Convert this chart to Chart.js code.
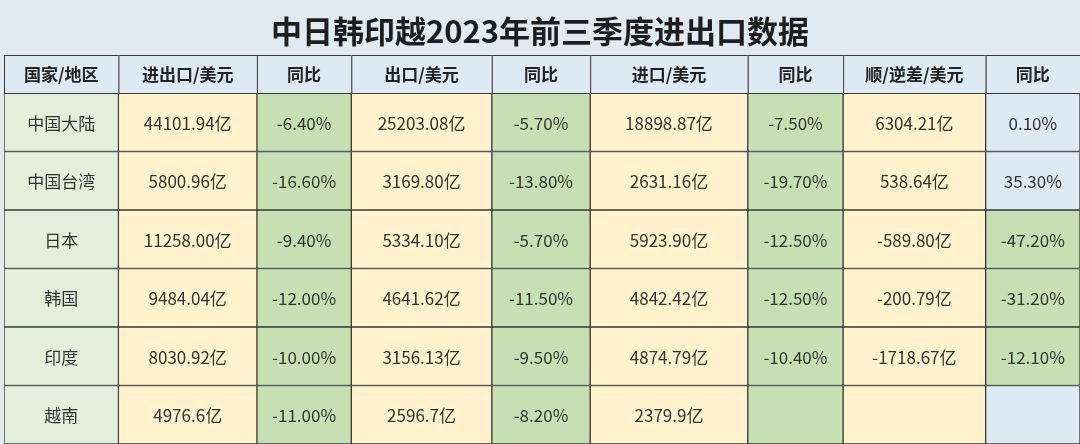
<!DOCTYPE html>
<html><head><meta charset="utf-8">
<script src="https://cdn.jsdelivr.net/npm/chart.js@4/dist/chart.umd.min.js"></script>
<style>html,body{margin:0;padding:0;background:#dfeaf2;}#wrap{width:1080px;height:444px;}</style>
</head><body><div id="wrap"><canvas id="chart"></canvas></div>
<script>
// 表格数据
const title = '中日韩印越2023年前三季度进出口数据';
const headers = ['国家/地区', '进出口/美元', '同比', '出口/美元', '同比', '进口/美元', '同比', '顺/逆差/美元', '同比'];
const regions = ['中国大陆', '中国台湾', '日本', '韩国', '印度', '越南'];
const totalTrade = ['44101.94亿', '5800.96亿', '11258.00亿', '9484.04亿', '8030.92亿', '4976.6亿'];
const totalYoY = ['-6.40%', '-16.60%', '-9.40%', '-12.00%', '-10.00%', '-11.00%'];
const exportsVal = ['25203.08亿', '3169.80亿', '5334.10亿', '4641.62亿', '3156.13亿', '2596.7亿'];
const exportsYoY = ['-5.70%', '-13.80%', '-5.70%', '-11.50%', '-9.50%', '-8.20%'];
const importsVal = ['18898.87亿', '2631.16亿', '5923.90亿', '4842.42亿', '4874.79亿', '2379.9亿'];
const importsYoY = ['-7.50%', '-19.70%', '-12.50%', '-12.50%', '-10.40%', ''];
const balance = ['6304.21亿', '538.64亿', '-589.80亿', '-200.79亿', '-1718.67亿', ''];
const balanceYoY = ['0.10%', '35.30%', '-47.20%', '-31.20%', '-12.10%', ''];

const columns = [regions, totalTrade, totalYoY, exportsVal, exportsYoY, importsVal, importsYoY, balance, balanceYoY];
const colWidths = [114, 138, 94, 140, 98, 157, 95, 142, 94];

const GREEN = '#c6e0b4', CREAM = '#fff2cc', LGREEN = '#e2efda', BLUE = '#dde9f3';
function cellColor(c, r) {
  if (c === 0) return LGREEN;
  if (c === 8) return (r < 2 || r === 5) ? BLUE : GREEN;
  return c % 2 === 0 ? GREEN : CREAM;
}

const edges = [0];
colWidths.forEach(w => edges.push(edges[edges.length - 1] + w));

const datasets = columns.map((col, c) => ({
  label: headers[c],
  data: col.map(() => [edges[c], edges[c + 1]]),
  texts: col,
  backgroundColor: col.map((_, r) => cellColor(c, r)),
  borderColor: '#3a3a3a',
  borderWidth: 1,
  borderSkipped: false,
  barPercentage: 1,
  categoryPercentage: 1
}));

const FONT = '"Noto Sans CJK SC", "Noto Sans", sans-serif';

const tablePlugin = {
  id: 'tableText',
  afterDatasetsDraw(chart) {
    const ctx = chart.ctx;
    const xs = chart.scales.x;
    const top = chart.chartArea.top;
    ctx.save();
    // 标题
    ctx.fillStyle = '#1e1e1e';
    ctx.font = 'bold 31px ' + FONT;
    ctx.textAlign = 'center';
    ctx.textBaseline = 'middle';
    ctx.fillText(title, 540, 31);
    // 表头
    const hTop = 55;
    headers.forEach((h, c) => {
      const x0 = xs.getPixelForValue(edges[c]);
      const x1 = xs.getPixelForValue(edges[c + 1]);
      ctx.fillStyle = BLUE;
      ctx.fillRect(x0, hTop, x1 - x0, top - hTop);
      ctx.strokeStyle = '#3a3a3a';
      ctx.lineWidth = 1;
      ctx.strokeRect(x0 + 0.5, hTop + 0.5, x1 - x0, top - hTop);
      ctx.fillStyle = '#222';
      ctx.font = 'bold 17px ' + FONT;
      ctx.fillText(h, (x0 + x1) / 2, (hTop + top) / 2 + 1);
    });
    // 单元格文字
    ctx.font = '17px ' + FONT;
    ctx.fillStyle = '#333';
    chart.data.datasets.forEach((ds, i) => {
      chart.getDatasetMeta(i).data.forEach((el, r) => {
        const t = ds.texts[r];
        if (t) ctx.fillText(t, (el.x + el.base) / 2, el.y + 1);
      });
    });
    ctx.restore();
  }
};

new Chart(document.getElementById('chart'), {
  type: 'bar',
  data: { labels: regions, datasets },
  options: {
    indexAxis: 'y',
    responsive: true,
    maintainAspectRatio: false,
    animation: false,
    layout: { padding: { top: 93, left: 4, right: 0, bottom: 0 } },
    plugins: { legend: { display: false }, title: { display: false }, tooltip: { enabled: false } },
    scales: {
      x: { type: 'linear', min: 0, max: edges[edges.length - 1], display: false },
      y: { display: false, stacked: true }
    }
  },
  plugins: [tablePlugin]
});
</script></body></html>
